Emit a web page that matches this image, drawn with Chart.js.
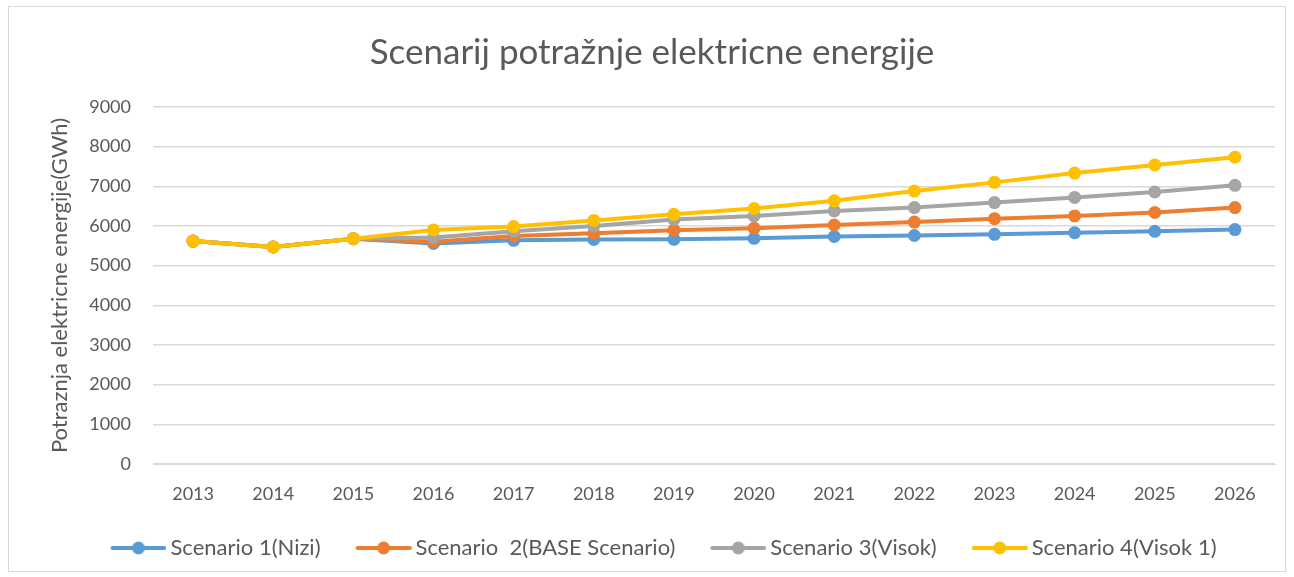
<!DOCTYPE html>
<html>
<head>
<meta charset="utf-8">
<script src="https://cdn.jsdelivr.net/npm/chart.js@4"></script>
<style>
  html, body { margin: 0; padding: 0; background: #fff; }
  #wrap { position: absolute; left: 8px; top: 6px; width: 1278px; height: 566px; border: 1px solid #d9d9d9; box-sizing: border-box; }
  canvas { display: block; }
</style>
</head>
<body>
<div id="wrap"><canvas id="chart"></canvas></div>
<script>
const years = ['2013', '2014', '2015', '2016', '2017', '2018', '2019', '2020', '2021', '2022', '2023', '2024', '2025', '2026'];
const scenario1 = [5620, 5470, 5680, 5560, 5640, 5660, 5665, 5690, 5735, 5760, 5790, 5830, 5865, 5910];
const scenario2 = [5620, 5470, 5680, 5600, 5750, 5815, 5895, 5945, 6025, 6100, 6185, 6255, 6340, 6465];
const scenario3 = [5620, 5470, 5680, 5710, 5870, 6000, 6165, 6255, 6380, 6465, 6590, 6720, 6860, 7025];
const scenario4 = [5620, 5470, 5680, 5900, 5985, 6140, 6295, 6440, 6635, 6880, 7100, 7335, 7540, 7735];

const names = ['Scenario 1(Nizi)', 'Scenario  2(BASE Scenario)', 'Scenario 3(Visok)', 'Scenario 4(Visok 1)'];
const colors = ['#5b9bd5', '#ed7d31', '#a5a5a5', '#ffc000'];
const series = [scenario1, scenario2, scenario3, scenario4];

// legend marker: line with a dot, drawn on the right part of a wider canvas
function legendIcon(color) {
  const c = document.createElement('canvas');
  c.width = 86; c.height = 16;
  const g = c.getContext('2d');
  g.strokeStyle = color; g.lineWidth = 4; g.lineCap = 'round';
  g.beginPath(); g.moveTo(32, 8); g.lineTo(84, 8); g.stroke();
  g.fillStyle = color;
  g.beginPath(); g.arc(58, 8, 6.5, 0, Math.PI * 2); g.fill();
  return c;
}

const font = 'Lato, "Open Sans", sans-serif';
const grey = '#595959';

new Chart(document.getElementById('chart'), {
  type: 'line',
  data: {
    labels: years,
    datasets: series.map((d, i) => ({
      label: names[i],
      data: d,
      borderColor: colors[i],
      backgroundColor: colors[i],
      borderWidth: 4,
      pointRadius: 6.5,
      pointHoverRadius: 6.5,
      pointBorderWidth: 0,
      order: 4 - i
    }))
  },
  options: {
    responsive: true,
    maintainAspectRatio: false,
    animation: false,
    layout: { padding: { left: 20, right: 10, top: 17, bottom: 2 } },
    plugins: {
      title: {
        display: true,
        text: 'Scenarij potražnje elektricne energije',
        color: grey,
        font: { family: font, size: 35, weight: 'normal' },
        padding: { top: 8, bottom: 33 }
      },
      legend: {
        position: 'bottom',
        labels: {
          color: grey,
          font: { family: font, size: 22 },
          boxHeight: 16,
          pointStyleWidth: 72,
          padding: 12,
          usePointStyle: true,
          sort: (a, b) => a.datasetIndex - b.datasetIndex,
          generateLabels: chart => chart.data.datasets.map((ds, i) => ({
            text: ds.label,
            fontColor: grey,
            pointStyle: legendIcon(colors[i]),
            datasetIndex: i,
            hidden: false,
            lineWidth: 0
          }))
        }
      },
      tooltip: { enabled: false }
    },
    scales: {
      x: {
        offset: true,
        grid: { display: false, drawTicks: false },
        border: { color: '#d9d9d9' },
        ticks: { color: grey, font: { family: font, size: 18 }, padding: 19 },
        afterFit: scale => { scale.height = 61; }
      },
      y: {
        min: 0,
        max: 9000,
        ticks: {
          stepSize: 1000,
          color: grey,
          font: { family: font, size: 18 },
          padding: 22,
          callback: v => String(v)
        },
        grid: { color: '#d9d9d9', lineWidth: 1.5, drawTicks: false },
        border: { display: false },
        title: {
          display: true,
          text: 'Potraznja elektricne energije(GWh)',
          color: grey,
          font: { family: font, size: 22 },
          padding: { top: 18, bottom: 0 }
        },
        afterFit: scale => { scale.width = 124; }
      }
    }
  }
});
</script>
</body>
</html>
